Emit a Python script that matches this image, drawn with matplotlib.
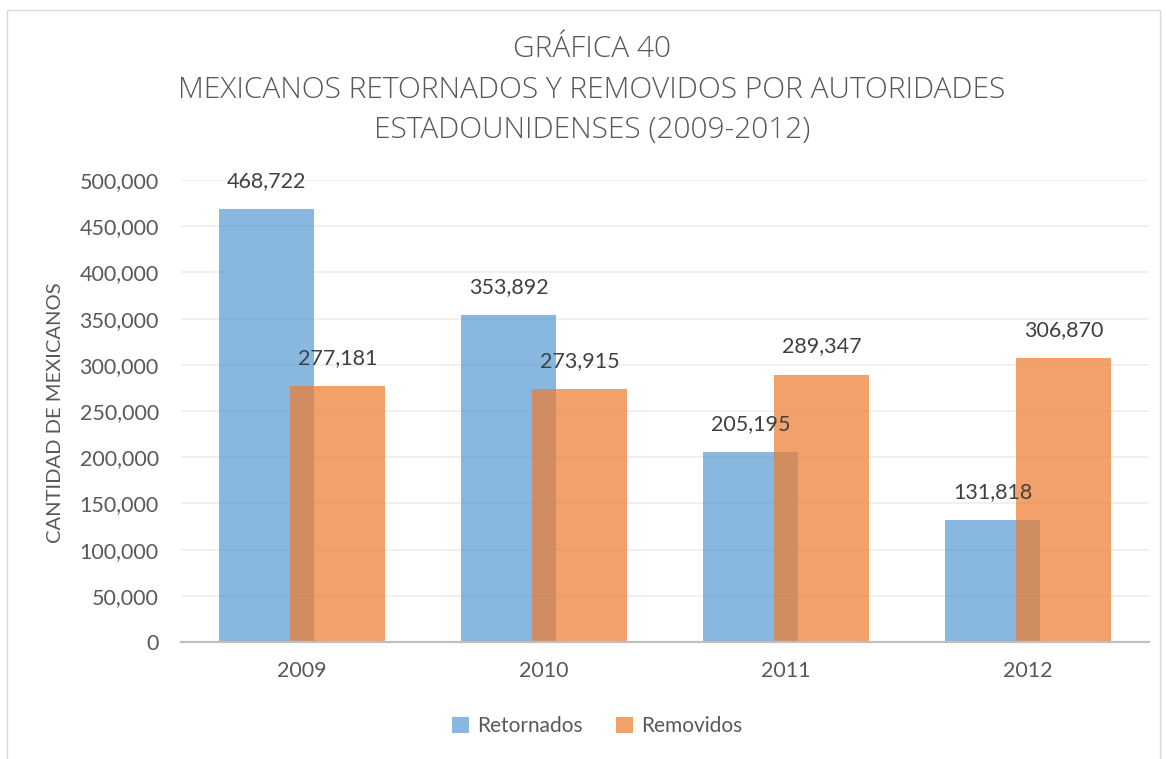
import matplotlib
matplotlib.use("Agg")
import matplotlib.pyplot as plt
from matplotlib.patches import Rectangle, Patch
from matplotlib.ticker import FuncFormatter

# Data
years = ["2009", "2010", "2011", "2012"]
retornados = [468722, 353892, 205195, 131818]
removidos = [277181, 273915, 289347, 306870]
y_ticks = [0, 50000, 100000, 150000, 200000, 250000, 300000, 350000, 400000, 450000, 500000]
title_lines = ["GRÁFICA 40",
               "MEXICANOS RETORNADOS Y REMOVIDOS POR AUTORIDADES",
               "ESTADOUNIDENSES (2009-2012)"]
y_label = "CANTIDAD DE MEXICANOS"
series_names = ["Retornados", "Removidos"]

FONT = "Lato"
plt.rcParams["font.family"] = [FONT, "DejaVu Sans"]

W, H = 1167, 759
fig = plt.figure(figsize=(W / 100, H / 100), dpi=100)
fig.patch.set_facecolor("white")

# Outer chart border
fig.patches.append(Rectangle((7 / W, -0.05), (1160 - 7) / W, 1.05 - 10 / H,
                             transform=fig.transFigure, fill=False,
                             edgecolor="#D9D9D9", linewidth=1.0, zorder=0))

left, right = 181 / W, 1149 / W
bottom, top = 1 - 642 / H, 1 - 180 / H
ax = fig.add_axes([left, bottom, right - left, top - bottom])

blue = "#5B9BD5"
orange = "#ED7D31"
alpha = 0.72
width = 0.393
offset = 0.147
x = list(range(len(years)))

b1 = ax.bar([i - offset for i in x], retornados, width=width, color=blue,
            alpha=alpha, zorder=2, linewidth=0)
b2 = ax.bar([i + offset for i in x], removidos, width=width, color=orange,
            alpha=alpha, zorder=3, linewidth=0)

for bars, vals in ((b1, retornados), (b2, removidos)):
    for rect, v in zip(bars, vals):
        ax.annotate(f"{v:,}", (rect.get_x() + rect.get_width() / 2, v),
                    xytext=(0, 13), textcoords="offset points",
                    ha="center", va="bottom", fontsize=15.5,
                    color="#404040", zorder=5)

ax.set_xlim(-0.5, len(years) - 0.5)
ax.set_ylim(0, 500000)
ax.set_yticks(y_ticks)
ax.yaxis.set_major_formatter(FuncFormatter(lambda v, p: f"{int(v):,}"))
ax.set_xticks(x)
ax.set_xticklabels(years)
ax.tick_params(axis="y", length=0, pad=16, labelsize=15.5, labelcolor="#595959")
ax.tick_params(axis="x", length=0, pad=14, labelsize=15.5, labelcolor="#595959")

ax.grid(axis="y", color="#EEEEEE", linewidth=1.2, zorder=0)
ax.set_axisbelow(True)
for s in ("top", "right", "left"):
    ax.spines[s].set_visible(False)
ax.spines["bottom"].set_color("#BFBFBF")
ax.spines["bottom"].set_linewidth(1.6)
ax.spines["bottom"].set_zorder(4)

ax.set_ylabel(y_label, fontsize=14.5, color="#595959")
ax.yaxis.set_label_coords((64 - 181) / (1149 - 181), 0.497)

# Title
title_y = [49, 90, 130]
for line, yy in zip(title_lines, title_y):
    fig.text(592 / W, 1 - yy / H, line, ha="center", va="center",
             fontsize=21.5, color="#595959", fontweight="light",
             family=["Open Sans", "DejaVu Sans"])

# Legend
handles = [Patch(facecolor=blue, alpha=alpha, label=series_names[0]),
           Patch(facecolor=orange, alpha=alpha, label=series_names[1])]
fig.legend(handles=handles, loc="center", bbox_to_anchor=(597 / W, 1 - 726 / H),
           ncol=2, frameon=False, fontsize=15, labelcolor="#595959",
           handlelength=0.8, handleheight=0.8, handletextpad=0.4,
           columnspacing=1.6)

fig.savefig("out.png", dpi=100, facecolor="white")
